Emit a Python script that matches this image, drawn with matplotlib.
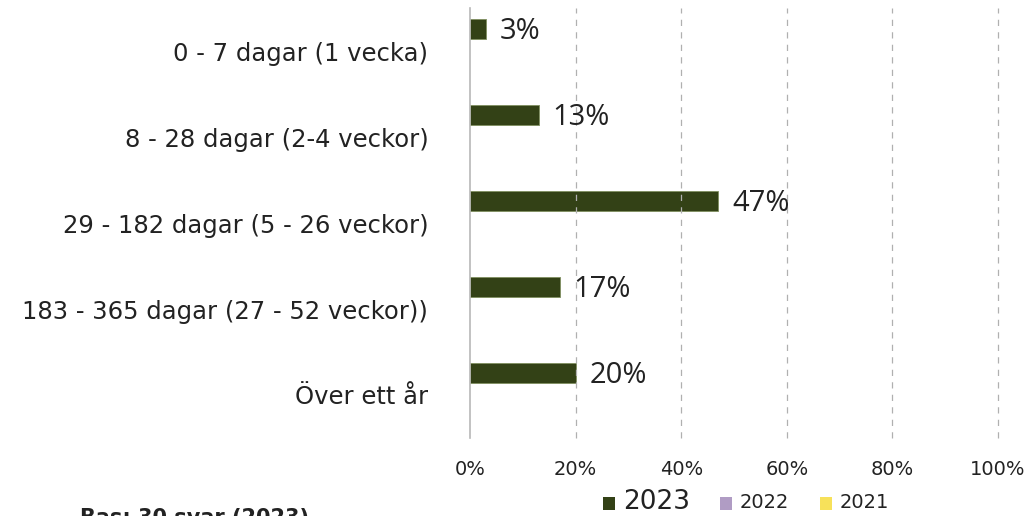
import matplotlib
matplotlib.use("Agg")
import matplotlib.pyplot as plt
from matplotlib.patches import Rectangle

categories = ["0 - 7 dagar (1 vecka)", "8 - 28 dagar (2-4 veckor)",
              "29 - 182 dagar (5 - 26 veckor)", "183 - 365 dagar (27 - 52 veckor))",
              "Över ett år"]
values_2023 = [3, 13, 47, 17, 20]
values_2022 = [0, 0, 0, 0, 0]
values_2021 = [0, 0, 0, 0, 0]
series_names = ["2023", "2022", "2021"]
colors = ["#334116", "#b09cc4", "#f7e15a"]
xticks = [0, 20, 40, 60, 80, 100]

W, H = 1033, 516
fig = plt.figure(figsize=(W/100, H/100), dpi=100)
ax = fig.add_axes([470/W, 1-438/H, (998-470)/W, (438-8)/H])

ypos = list(range(len(categories)))
bh = 0.233
offs = [-0.257, 0.0, 0.267]
for s, vals in enumerate([values_2023, values_2022, values_2021]):
    yy = [y + offs[s] for y in ypos]
    ax.barh(yy, vals, height=bh, color=colors[s], edgecolor="#7f8f60" if s == 0 else colors[s],
            linewidth=0.6 if s == 0 else 0)
for y, v in zip(ypos, values_2023):
    ax.text(v + 2.6, y + offs[0] + 0.03, f"{v}%", va="center", ha="left", fontsize=21,
            family="Open Sans", color="#222222")

ax.set_xlim(0, 100)
ax.set_ylim(4.5, -0.5)
ax.set_yticks(ypos)
ax.set_yticklabels(categories, fontsize=17.5, family="DejaVu Sans", color="#222222")
ax.tick_params(axis="y", length=0, pad=30)
ax.set_xticks(xticks)
ax.set_xticklabels([f"{t}%" for t in xticks], fontsize=14, family="Liberation Sans Narrow",
                   color="#222222")
ax.tick_params(axis="x", length=0, pad=16)
for t in xticks[1:]:
    ax.axvline(t, color="#b0b0b0", lw=0.9, ls=(0, (5, 5)), clip_on=False)
for sp in ["top", "right", "bottom"]:
    ax.spines[sp].set_visible(False)
ax.spines["left"].set_color("#b8b8b8")
ax.spines["left"].set_linewidth(1.2)

# legend
legend_items = [(603, "2023", 19), (720, "2022", 14), (820, "2021", 14)]
for (x, name, fs), c in zip(legend_items, colors):
    fig.patches.append(Rectangle((x/W, 1-510/H), 12/W, 13/H, transform=fig.transFigure,
                                 facecolor=c, edgecolor="none"))
    fig.text((x+20)/W, 1-502/H, name, fontsize=fs, family="Liberation Sans Narrow",
             va="center", ha="left", color="#222222")

fig.text(80/W, 1-524/H, "Bas: 30 svar (2023)", fontsize=15, fontweight="bold",
         family="DejaVu Sans", va="baseline", ha="left", color="#222222")

fig.savefig("out.png", dpi=100)
